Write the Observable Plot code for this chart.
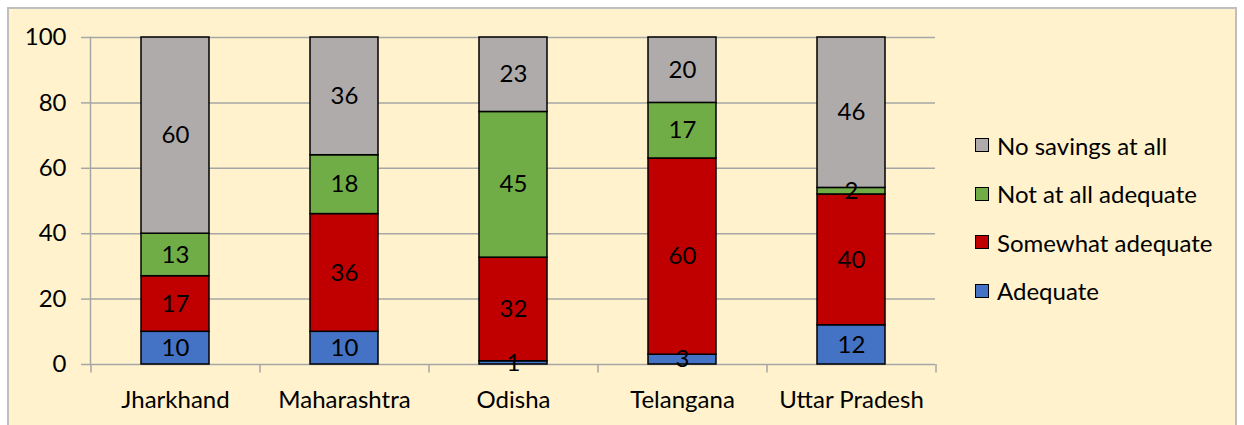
<!DOCTYPE html>
<html>
<head>
<meta charset="utf-8">
<script src="https://cdn.jsdelivr.net/npm/d3@7"></script>
<script src="https://cdn.jsdelivr.net/npm/@observablehq/plot@0.6"></script>
<style>
  html, body { margin: 0; padding: 0; background: #ffffff; }
  #wrap { position: relative; width: 1244px; height: 425px; overflow: hidden; }
  #bg { position: absolute; left: 7px; top: 7px; width: 1230px; height: 430px;
        background: #FFF2CC; border: 2px solid #BFBFBF; box-sizing: border-box; }
  #chart { position: absolute; left: 0; top: 0; }
  #legend { position: absolute; left: 975px; top: 121px; font-family: Lato, "Open Sans", sans-serif;
            font-size: 24px; color: #000; }
  .row { display: flex; align-items: center; height: 48.5px; }
  .sw { width: 12px; height: 12px; border: 1.5px solid #000; margin-right: 8px; }
</style>
</head>
<body>
<div id="wrap">
  <div id="bg"></div>
  <div id="chart"></div>
  <div id="legend"></div>
</div>
<script>
const states = ["Jharkhand", "Maharashtra", "Odisha", "Telangana", "Uttar Pradesh"];
const categories = ["Adequate", "Somewhat adequate", "Not at all adequate", "No savings at all"];
const colors = ["#4472C4", "#C00000", "#70AD47", "#AFABAB"];
const adequate = [10, 10, 1, 3, 12];
const somewhatAdequate = [17, 36, 32, 60, 40];
const notAtAllAdequate = [13, 18, 45, 17, 2];
const noSavings = [60, 36, 23, 20, 46];
const yTickLabels = [0, 20, 40, 60, 80, 100];

const series = [adequate, somewhatAdequate, notAtAllAdequate, noSavings];
const data = [];
states.forEach((s, i) => {
  categories.forEach((c, j) => data.push({state: s, cat: c, value: series[j][i]}));
});
const yTicks = yTickLabels.map(d => d / 100);

const font = "Lato, 'Open Sans', sans-serif";
const gridColor = "#A6A6A6";

const chart = Plot.plot({
  width: 1244,
  height: 425,
  marginLeft: 90,
  marginRight: 309,
  marginTop: 37,
  marginBottom: 61,
  style: {background: "transparent", fontFamily: font, fontSize: "24px", color: "#000"},
  x: {domain: states, paddingInner: 0.6, paddingOuter: 0.3, label: null},
  y: {domain: [0, 1], label: null},
  color: {domain: categories, range: colors},
  marks: [
    Plot.ruleY(yTicks, {stroke: gridColor, strokeWidth: 1.5}),
    Plot.frame({anchor: "left", stroke: gridColor, strokeWidth: 1.5}),
    Plot.axisY({ticks: yTicks, tickFormat: d => String(Math.round(d * 100)), tickSize: 9, tickPadding: 15, stroke: gridColor, strokeWidth: 1.5, fontSize: 24, label: null}),
    Plot.axisX({tickSize: 0, tickPadding: 26, fontSize: 24, label: null}),
    Plot.ruleX(states, {x: d => d, dx: -84.5, y1: 0, y2: -0.026, stroke: gridColor, strokeWidth: 1.5}),
    Plot.ruleX(states.slice(-1), {x: d => d, dx: 84.5, y1: 0, y2: -0.026, stroke: gridColor, strokeWidth: 1.5}),
    Plot.barY(data, Plot.stackY({x: "state", y: "value", fill: "cat", z: "cat", stroke: "#000", strokeWidth: 1.5, order: categories, offset: "normalize"})),
    Plot.text(data, Plot.stackY({x: "state", y: "value", z: "cat", text: d => String(d.value), order: categories, offset: "normalize", fill: "#000", fontSize: 24}))
  ]
});
document.getElementById("chart").appendChild(chart);

const legend = document.getElementById("legend");
[...categories].reverse().forEach((c) => {
  const row = document.createElement("div");
  row.className = "row";
  const sw = document.createElement("div");
  sw.className = "sw";
  sw.style.background = colors[categories.indexOf(c)];
  const t = document.createElement("span");
  t.textContent = c;
  row.appendChild(sw);
  row.appendChild(t);
  legend.appendChild(row);
});
</script>
</body>
</html>
